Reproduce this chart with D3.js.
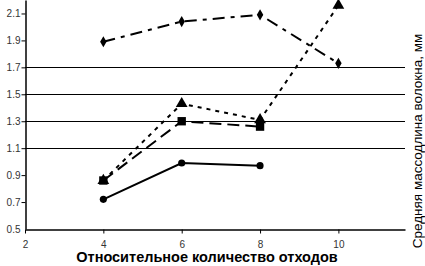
<!DOCTYPE html>
<html>
<head>
<meta charset="utf-8">
<script src="https://cdn.jsdelivr.net/npm/d3@7"></script>
<style>
  body { margin: 0; background: #fff; }
  svg { display: block; font-family: Arial, "Liberation Sans", sans-serif; }
</style>
</head>
<body>
<div id="chart"></div>
<script>
var xValues = [4, 6, 8, 10];
var diamondSeries = [1.89, 2.04, 2.09, 1.73];
var squareSeries = [0.86, 1.30, 1.26];
var triangleSeries = [0.86, 1.43, 1.31, 2.16];
var circleSeries = [0.72, 0.99, 0.97];

var xTicks = [2, 4, 6, 8, 10];
var yTicks = [0.5, 0.7, 0.9, 1.1, 1.3, 1.5, 1.7, 1.9, 2.1];
var gridTicks = [1.1, 1.3, 1.5, 1.7];

var svgWidth = 425;
var svgHeight = 266;

var svg = d3.select("#chart")
    .append("svg")
    .attr("width", svgWidth)
    .attr("height", svgHeight);

var x = d3.scaleLinear().domain([2, 11.7]).range([25, 405]);
var y = d3.scaleLinear().domain([0.5, 2.2]).range([229, 0]);

// grid
svg.selectAll(".grid")
    .data(gridTicks)
    .enter()
    .append("line")
    .attr("x1", x(2))
    .attr("x2", x(11.7))
    .attr("y1", d => Math.round(y(d)) + 0.5)
    .attr("y2", d => Math.round(y(d)) + 0.5)
    .attr("stroke", "#000")
    .attr("stroke-width", 1);

// axes
var xAxis = svg.append("g")
    .attr("transform", `translate(0, ${Math.round(y(0.5)) + 0.5})`)
    .call(d3.axisBottom(x).tickValues(xTicks).tickSize(4).tickSizeOuter(0).tickFormat(d3.format("d")));

var yAxis = svg.append("g")
    .attr("transform", `translate(${x(2) + 0.5}, 0)`)
    .call(d3.axisLeft(y).tickValues(yTicks).tickSize(4).tickSizeOuter(0).tickFormat(d3.format(".1f")));

svg.selectAll(".domain").attr("stroke", "#000").attr("stroke-width", 1.5);
xAxis.selectAll("text").attr("font-size", "10px").attr("fill", "#333").attr("dy", "1.1em");
yAxis.selectAll("text").attr("font-size", "10px").attr("fill", "#333").attr("x", -5);
yAxis.select(".tick:first-of-type line").attr("x2", 0);

function drawSeries(values, dash, marker, size) {
    var pts = values.map((v, i) => [xValues[i], v]);
    var line = d3.line().x(d => x(d[0])).y(d => y(d[1]));
    svg.append("path")
        .datum(pts)
        .attr("d", line)
        .attr("fill", "none")
        .attr("stroke", "#000")
        .attr("stroke-width", 2)
        .attr("stroke-dasharray", dash);
    svg.selectAll(null)
        .data(pts)
        .enter()
        .append("path")
        .attr("d", d3.symbol().type(marker).size(size))
        .attr("transform", d => `translate(${x(d[0])}, ${y(d[1])})`)
        .attr("fill", "#000");
}

drawSeries(diamondSeries, "12,6,4,6", d3.symbolDiamond, 36);
drawSeries(triangleSeries, "4,5", d3.symbolTriangle, 60);
drawSeries(squareSeries, "12,6", d3.symbolSquare, 70);
drawSeries(circleSeries, null, d3.symbolCircle, 40);

// titles
svg.append("text")
    .attr("x", 207)
    .attr("y", 262)
    .attr("text-anchor", "middle")
    .attr("font-size", "14.5px")
    .attr("font-weight", "bold")
    .text("Относительное количество отходов");

svg.append("text")
    .attr("transform", "translate(417, 141) rotate(-90)")
    .attr("text-anchor", "middle")
    .attr("dy", "0.35em")
    .attr("font-size", "13.5px")
    .text("Средняя массодлина волокна, мм");
</script>
</body>
</html>
